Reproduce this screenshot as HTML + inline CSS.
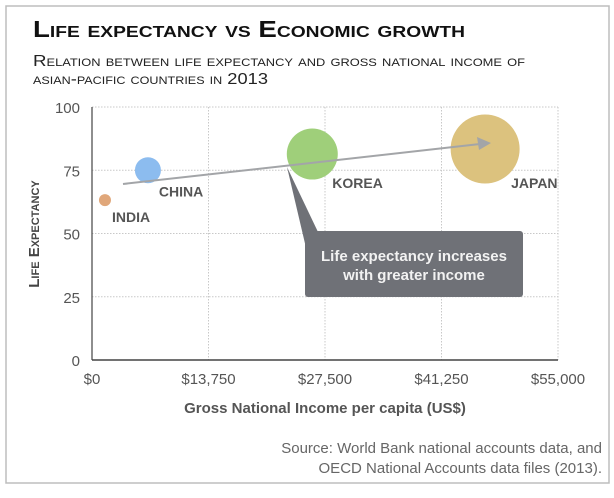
<!DOCTYPE html>
<html><head><meta charset="utf-8"><style>
html,body{margin:0;padding:0;background:#fff;}
body{width:614px;height:493px;overflow:hidden;font-family:"Liberation Sans",Arial,sans-serif;}
</style></head><body>
<svg id="chart" width="614" height="493" xmlns="http://www.w3.org/2000/svg" font-family="Liberation Sans, Arial, sans-serif">
<rect x="6" y="6" width="603" height="477" fill="#fff" stroke="#bdbdbd" stroke-width="1.5"/>
<text x="33" y="37" font-size="23" font-weight="bold" fill="#111" style="font-variant:small-caps" textLength="432" lengthAdjust="spacingAndGlyphs">Life expectancy vs Economic growth</text>
<text x="33" y="66" font-size="16" fill="#222" style="font-variant:small-caps" textLength="492" lengthAdjust="spacingAndGlyphs">Relation between life expectancy and gross national income of</text>
<text x="33" y="84" font-size="16" fill="#222" style="font-variant:small-caps" textLength="235" lengthAdjust="spacingAndGlyphs">asian-pacific countries in 2013</text>
<g id="grid"></g>
<g id="axes"></g>
<g id="bubbles"></g>
<line x1="123" y1="184" x2="480" y2="144" stroke="#a3a5a8" stroke-width="2"/>
<polygon points="491,143 477,137 479,150" fill="#a3a5a8"/>
<polygon points="287,167 307,252 318,232" fill="#6f7177"/>
<rect x="305" y="231" width="218" height="66" rx="3" fill="#6f7177"/>
<text x="414" y="261" text-anchor="middle" font-size="15" font-weight="bold" fill="#f2f2f2">Life expectancy increases</text>
<text x="414" y="280" text-anchor="middle" font-size="15" font-weight="bold" fill="#f2f2f2">with greater income</text>
<text transform="translate(39,234) rotate(-90)" text-anchor="middle" font-size="15" font-weight="bold" fill="#444" style="font-variant:small-caps">Life Expectancy</text>
<text x="325" y="413" text-anchor="middle" font-size="15" font-weight="bold" fill="#555">Gross National Income per capita (US$)</text>
<text x="602" y="453" text-anchor="end" font-size="15" fill="#666">Source: World Bank national accounts data, and</text>
<text x="602" y="473" text-anchor="end" font-size="15" fill="#666">OECD National Accounts data files (2013).</text>
</svg>
<script>
const countries = ["INDIA", "CHINA", "KOREA", "JAPAN"];
const income = [1530, 6600, 26000, 46400];
const lifeExp = [63.2, 75, 81.4, 83.4];
const bubbleSize = [6, 13, 25.5, 34.5];
const colors = ["#e0a77a", "#8cbcef", "#9fcf7a", "#dcc27e"];
const xTicks = [0, 13750, 27500, 41250, 55000];
const xTickLabels = ["$0", "$13,750", "$27,500", "$41,250", "$55,000"];
const yTicks = [0, 25, 50, 75, 100];

const NS = "http://www.w3.org/2000/svg";
const X0 = 92, X1 = 558, Y0 = 360, Y1 = 107;
function xs(v){ return X0 + (v - 0) / 55000 * (X1 - X0); }
function ys(v){ return Y0 - v / 100 * (Y0 - Y1); }
function mk(tag, attrs, parent){ const e = document.createElementNS(NS, tag); for (const k in attrs) e.setAttribute(k, attrs[k]); parent.appendChild(e); return e; }
const grid = document.getElementById("grid"), axes = document.getElementById("axes"), bub = document.getElementById("bubbles");

yTicks.forEach(t => {
  if (t > 0) {
    const l = mk("line", {x1: X0, x2: X1, y1: ys(t), y2: ys(t), stroke: "#c8c8c8", "stroke-dasharray": "1.5,1.5"}, grid);
    
    
  }
  const tx = mk("text", {x: 80, y: ys(t) + 6, "text-anchor": "end", "font-size": "15", fill: "#555"}, axes);
  tx.textContent = t;
  
  
});
xTicks.forEach((t, i) => {
  if (t > 0) {
    const l = mk("line", {x1: xs(t), x2: xs(t), y1: Y1, y2: Y0, stroke: "#c8c8c8", "stroke-dasharray": "1.5,1.5"}, grid);
    
    
  }
  const tx = mk("text", {x: xs(t), y: 384, "text-anchor": "middle", "font-size": "15", fill: "#555"}, axes);
  tx.textContent = xTickLabels[i];
  
  
});
const ya = mk("line", {x1: X0, x2: X0, y1: Y1, y2: Y0, stroke: "#444", "stroke-width": "1.2"}, axes);


const xa = mk("line", {x1: X0, x2: X1, y1: Y0, y2: Y0, stroke: "#444", "stroke-width": "1.5"}, axes);



const labelOff = [[7, 22], [11, 26], [20, 34], [26, 39]];
countries.forEach((c, i) => {
  const cx = xs(income[i]), cy = ys(lifeExp[i]);
  const e = mk("circle", {cx: cx, cy: cy, r: bubbleSize[i], fill: colors[i]}, bub);
  
  
  const t = mk("text", {x: cx + labelOff[i][0], y: cy + labelOff[i][1], "font-size": "14", "font-weight": "bold", fill: "#555"}, bub);
  t.textContent = c;
  
  
});
</script>
</body></html>
